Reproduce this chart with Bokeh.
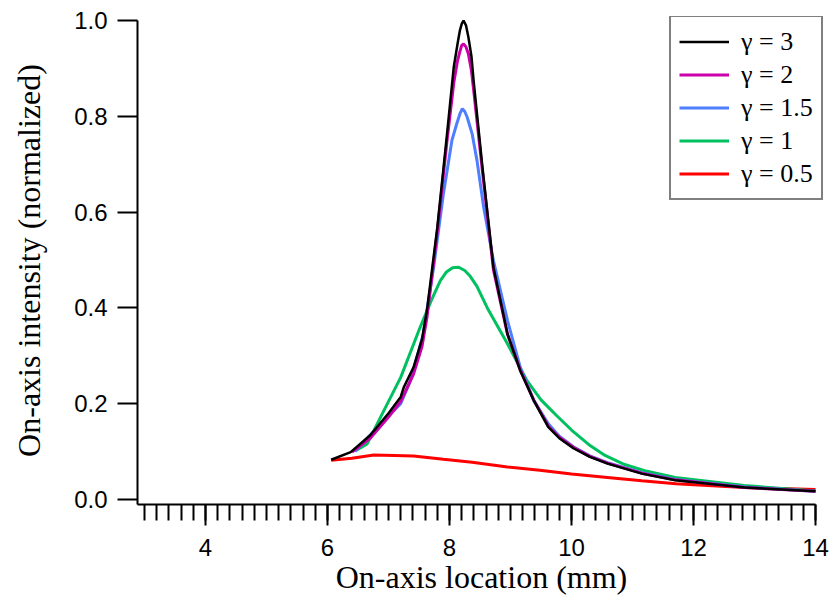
import numpy as np
from bokeh.plotting import figure
from bokeh.models import Range1d, FixedTicker, Legend, LegendItem
from bokeh.embed import file_html
from bokeh.resources import INLINE

# ---- data ----
x_g3 = [6.06, 6.38, 6.70, 7.00, 7.20, 7.25, 7.41, 7.55, 7.63, 7.80, 7.96, 8.07, 8.13, 8.17, 8.20, 8.23,
        8.27, 8.31, 8.36, 8.40, 8.54, 8.72, 8.95, 9.16, 9.38, 9.62, 9.80, 10.03, 10.30, 10.59, 11.15,
        11.70, 12.84, 14.0]
y_g3 = [0.083, 0.099, 0.134, 0.180, 0.214, 0.234, 0.276, 0.335, 0.395, 0.568, 0.764, 0.903, 0.950, 0.979,
        0.993, 1.000, 0.990, 0.965, 0.925, 0.868, 0.694, 0.485, 0.346, 0.269, 0.207, 0.151, 0.128, 0.107,
        0.089, 0.075, 0.054, 0.040, 0.025, 0.017]

x_g2 = [6.40, 6.70, 7.00, 7.20, 7.41, 7.55, 7.63, 7.80, 7.96, 8.07, 8.13, 8.17, 8.20, 8.23, 8.27, 8.31,
        8.36, 8.40, 8.54, 8.72, 8.95, 9.16, 9.38, 9.62, 9.80, 10.03, 10.30, 10.59, 11.15, 11.70, 12.84, 14.0]
y_g2 = [0.099, 0.128, 0.172, 0.205, 0.262, 0.320, 0.380, 0.560, 0.750, 0.870, 0.915, 0.935, 0.948, 0.951,
        0.945, 0.930, 0.895, 0.850, 0.685, 0.480, 0.345, 0.270, 0.208, 0.153, 0.130, 0.109, 0.090, 0.076,
        0.055, 0.041, 0.025, 0.017]

x_g15 = [6.45, 6.87, 7.20, 7.36, 7.57, 7.74, 7.90, 8.04, 8.12, 8.17, 8.21, 8.25, 8.29, 8.37, 8.45, 8.56,
         8.72, 8.95, 9.16, 9.38, 9.62, 9.80, 10.03, 10.30, 10.59, 11.15, 11.70, 12.84, 14.0]
y_g15 = [0.100, 0.158, 0.200, 0.248, 0.346, 0.485, 0.638, 0.750, 0.785, 0.805, 0.816, 0.810, 0.798, 0.764,
         0.708, 0.610, 0.499, 0.374, 0.276, 0.207, 0.158, 0.132, 0.110, 0.091, 0.077, 0.056, 0.042, 0.026,
         0.017]

x_g1 = [6.46, 6.65, 6.87, 7.20, 7.52, 7.70, 7.85, 7.95, 8.05, 8.15, 8.25, 8.34, 8.45, 8.62, 8.95, 9.27,
        9.50, 9.75, 10.00, 10.31, 10.55, 10.87, 11.20, 11.70, 12.83, 14.0]
y_g1 = [0.102, 0.116, 0.172, 0.255, 0.360, 0.415, 0.457, 0.475, 0.484, 0.485, 0.478, 0.466, 0.445, 0.400,
        0.325, 0.248, 0.208, 0.176, 0.145, 0.112, 0.092, 0.073, 0.060, 0.046, 0.029, 0.018]

x_g05 = [6.06, 6.40, 6.76, 7.10, 7.41, 7.90, 8.37, 8.95, 9.48, 10.00, 10.59, 11.15, 11.71, 12.83, 14.0]
y_g05 = [0.082, 0.086, 0.093, 0.092, 0.091, 0.084, 0.078, 0.068, 0.061, 0.053, 0.046, 0.039, 0.033, 0.025,
         0.021]

labels = ["\u03b3 = 3", "\u03b3 = 2", "\u03b3 = 1.5", "\u03b3 = 1", "\u03b3 = 0.5"]
colors = ["#000000", "#CC00AA", "#4D7FFF", "#00C060", "#FF0000"]
widths = [2.5, 3.0, 3.0, 3.0, 3.0]
xs = [x_g3, x_g2, x_g15, x_g1, x_g05]
ys = [y_g3, y_g2, y_g15, y_g1, y_g05]

x_major = [4, 6, 8, 10, 12, 14]
x_minor = [round(v, 1) for v in np.arange(3.0, 14.01, 0.2)]
y_major = [0.0, 0.2, 0.4, 0.6, 0.8, 1.0]

x_lo, x_hi, x_pad = 2.885, 14.0, 0.164
y_lo, y_hi, y_pad = -0.01044, 1.0, 0.0084

p = figure(frame_width=688, frame_height=488, output_backend="svg", toolbar_location=None,
           min_border_left=137, min_border_top=16, min_border_right=10, min_border_bottom=97,
           x_range=Range1d(x_lo, x_hi + x_pad), y_range=Range1d(y_lo, y_hi + y_pad))
p.width = 835
p.height = 601
p.outline_line_color = None
p.grid.visible = False
p.background_fill_color = "white"

rmap = {}
for i in [4, 3, 2, 1, 0]:
    rmap[i] = p.line(xs[i], ys[i], line_color=colors[i], line_width=widths[i])

items = [LegendItem(label=labels[i], renderers=[rmap[i]]) for i in range(5)]
legend = Legend(items=items, location=(532, 304),
                label_text_font="serif", label_text_font_size="26px",
                label_text_color="black")
legend.border_line_color = "black"
legend.border_line_width = 2
legend.background_fill_alpha = 1.0
legend.glyph_width = 50
legend.glyph_height = 33
legend.label_height = 33
legend.spacing = 0
legend.padding = 8
legend.margin = 0
legend.label_standoff = 12
p.add_layout(legend, "center")

# x axis
xa = p.xaxis[0]
xa.bounds = (x_lo, x_hi)
xa.ticker = FixedTicker(ticks=x_major, minor_ticks=x_minor)
xa.axis_label = "On-axis location (mm)"
xa.axis_label_text_font = "Liberation Serif"
xa.axis_label_text_font_size = "32px"
xa.axis_label_text_font_style = "normal"
xa.axis_label_text_color = "black"
xa.axis_label_standoff = 0
xa.major_label_text_font = "Liberation Sans"
xa.major_label_text_font_size = "24px"
xa.major_label_standoff = 13
xa.major_tick_in = 0
xa.major_tick_out = 21
xa.minor_tick_in = 0
xa.minor_tick_out = 16
xa.axis_line_width = 2
xa.major_tick_line_width = 2
xa.minor_tick_line_width = 2
xa.axis_line_color = "black"
xa.major_tick_line_color = "black"
xa.minor_tick_line_color = "black"
xa.major_label_text_color = "black"

# y axis
ya = p.yaxis[0]
ya.bounds = (y_lo, y_hi)
ya.ticker = FixedTicker(ticks=y_major, minor_ticks=[])
ya.axis_label = "On-axis intensity (normalized)"
ya.axis_label_text_font = "Liberation Serif"
ya.axis_label_text_font_size = "32px"
ya.axis_label_text_font_style = "normal"
ya.axis_label_text_color = "black"
ya.axis_label_standoff = 24
ya.major_label_text_font = "Liberation Sans"
ya.major_label_text_font_size = "24px"
ya.major_label_standoff = 10
ya.major_tick_in = 0
ya.major_tick_out = 20
ya.minor_tick_line_color = None
ya.axis_line_width = 2
ya.major_tick_line_width = 2
ya.axis_line_color = "black"
ya.major_tick_line_color = "black"
ya.major_label_text_color = "black"
ya.major_label_overrides = {0.0: "0.0", 0.2: "0.2", 0.4: "0.4", 0.6: "0.6", 0.8: "0.8", 1.0: "1.0"}

open("out.html", "w").write(file_html(p, INLINE))
